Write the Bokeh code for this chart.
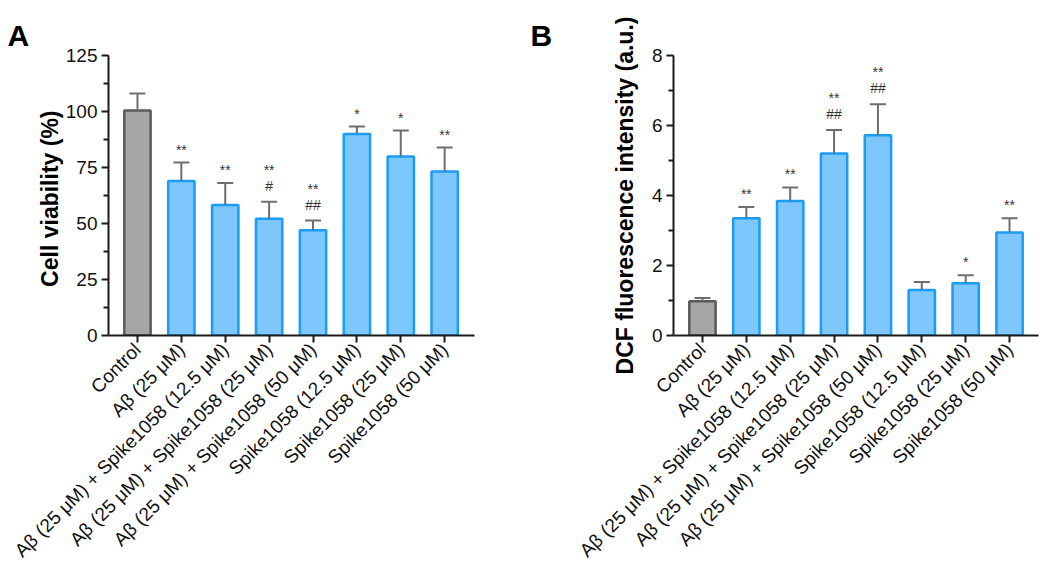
from math import pi
from bokeh.plotting import figure
from bokeh.models import ColumnDataSource, Range1d, FixedTicker, Whisker, TeeHead
from bokeh.layouts import row
from bokeh.embed import file_html
from bokeh.resources import INLINE
from bokeh.core.properties import value

# ---------------- data ----------------
categories = [
    "Control",
    "Aβ (25 μM)",
    "Aβ (25 μM) + Spike1058 (12.5 μM)",
    "Aβ (25 μM) + Spike1058 (25 μM)",
    "Aβ (25 μM) + Spike1058 (50 μM)",
    "Spike1058 (12.5 μM)",
    "Spike1058 (25 μM)",
    "Spike1058 (50 μM)",
]

viability_mean = [100.5, 69.0, 58.3, 52.1, 47.0, 89.9, 79.9, 73.2]
viability_sd = [7.5, 8.2, 9.8, 7.6, 4.3, 3.4, 11.6, 10.7]
viability_star = ["", "**", "**", "**", "**", "*", "*", "**"]
viability_hash = ["", "", "", "#", "##", "", "", ""]

dcf_mean = [0.98, 3.35, 3.84, 5.20, 5.72, 1.30, 1.49, 2.94]
dcf_sd = [0.09, 0.32, 0.39, 0.67, 0.89, 0.23, 0.23, 0.41]
dcf_star = ["", "**", "**", "**", "**", "", "*", "**"]
dcf_hash = ["", "", "", "##", "##", "", "", ""]

viability_ticks = [0, 25, 50, 75, 100, 125]
viability_minor = [12.5, 37.5, 62.5, 87.5, 112.5]
dcf_ticks = [0, 2, 4, 6, 8]
dcf_minor = [1, 3, 5, 7]

# ---------------- style ----------------
FONT = "Liberation Sans"
BLUE_FILL = "#7DC7FD"
BLUE_LINE = "#1B9CF6"
GRAY_FILL = "#A6A6A6"
GRAY_LINE = "#5A5A5A"
ERR_COLOR = "#6E6E6E"
AXIS_COLOR = "#1A1A1A"
HEIGHT = 578
TOP, BOTTOM = 55, 243


def make_panel(letter, means, sds, stars, hashes, yticks, yminor, ylabel,
               width, left, frame_w, pad_l, pad_r, label_standoff, letter_off):
    n = len(categories)
    x0, x1 = -pad_l, n - 1 + pad_r
    y1 = yticks[-1]
    right = width - left - frame_w
    p = figure(width=width, height=HEIGHT,
               x_range=Range1d(x0, x1), y_range=Range1d(0, y1),
               output_backend="svg", toolbar_location=None,
               min_border_left=left, min_border_right=right,
               min_border_top=TOP, min_border_bottom=BOTTOM)
    p.outline_line_color = None
    p.grid.visible = False
    p.background_fill_color = "white"

    # panel letter as title
    p.title.text = letter
    p.title.align = "left"
    p.title.offset = letter_off
    p.title.text_font = FONT
    p.title.text_font_size = "30px"
    p.title.text_font_style = "bold"
    p.title.text_color = "#000000"
    p.title.standoff = 8

    xs = list(range(n))
    src = ColumnDataSource(dict(
        x=xs,
        top=means,
        upper=[m + s for m, s in zip(means, sds)],
        fill=[GRAY_FILL] + [BLUE_FILL] * (n - 1),
        line=[GRAY_LINE] + [BLUE_LINE] * (n - 1),
        star=stars,
        hash=hashes,
        star_off=[-32 if h else -13 for h in hashes],
    ))

    p.vbar(x="x", top="top", bottom=0, width=0.6, source=src,
           fill_color="fill", line_color="line", line_width=2.5)

    w = Whisker(source=src, base="x", lower="top", upper="upper",
                line_color=ERR_COLOR, line_width=2,
                upper_head=TeeHead(size=16, line_color=ERR_COLOR, line_width=2),
                lower_head=None, level="overlay")
    p.add_layout(w)

    p.text(x="x", y="upper", text="hash", source=src, y_offset=-16,
           text_align="center", text_baseline="middle",
           text_font=value(FONT), text_font_size="14px", text_color="#333333")
    p.text(x="x", y="upper", text="star", source=src, y_offset="star_off",
           text_align="center", text_baseline="middle",
           text_font=value(FONT), text_font_size="14px", text_color="#333333")

    # axes
    for ax in (p.xaxis[0], p.yaxis[0]):
        ax.axis_line_color = AXIS_COLOR
        ax.axis_line_width = 2
        ax.major_tick_line_color = AXIS_COLOR
        ax.major_tick_line_width = 2
        ax.major_tick_in = 0
        ax.major_tick_out = 7
        ax.major_label_text_font = FONT
        ax.major_label_text_color = "#111111"

    p.xaxis.ticker = FixedTicker(ticks=xs)
    p.xaxis.major_label_overrides = {i: c for i, c in enumerate(categories)}
    p.xaxis.major_label_orientation = pi / 4
    p.xaxis.minor_tick_line_color = None
    p.xaxis.major_label_standoff = 4
    p.xaxis.major_label_text_font_size = "19px"

    p.yaxis.ticker = FixedTicker(ticks=yticks, minor_ticks=yminor)
    p.yaxis.minor_tick_line_color = AXIS_COLOR
    p.yaxis.minor_tick_line_width = 2
    p.yaxis.minor_tick_in = 0
    p.yaxis.minor_tick_out = 5
    p.yaxis.major_label_standoff = 4
    p.yaxis.major_label_text_font_size = "19px"
    p.yaxis.axis_label = ylabel
    p.yaxis.axis_label_text_font = FONT
    p.yaxis.axis_label_text_font_style = "bold"
    p.yaxis.axis_label_text_font_size = "23px"
    p.yaxis.axis_label_text_color = "#000000"
    p.yaxis.axis_label_standoff = label_standoff
    return p


pA = make_panel("A", viability_mean, viability_sd, viability_star, viability_hash,
                viability_ticks, viability_minor, "Cell  viability (%)",
                width=525, left=108, frame_w=366, pad_l=0.66, pad_r=0.68,
                label_standoff=0, letter_off=-101)
pB = make_panel("B", dcf_mean, dcf_sd, dcf_star, dcf_hash,
                dcf_ticks, dcf_minor, "DCF fluorescence intensity (a.u.)",
                width=517, left=148, frame_w=365, pad_l=0.66, pad_r=0.66,
                label_standoff=11, letter_off=-143)

layout = row(pA, pB)
open("out.html", "w").write(file_html(layout, INLINE))
